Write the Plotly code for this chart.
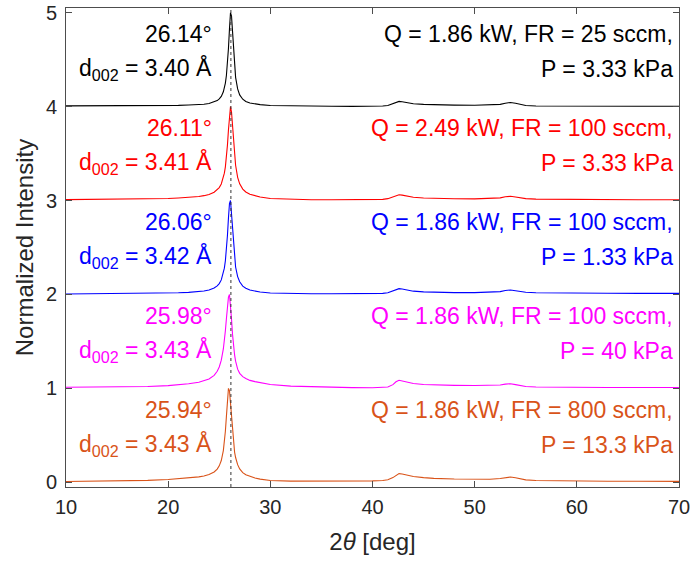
import plotly.graph_objects as go

# 2-theta grid (deg)
two_theta = [10, 12, 14, 16, 18, 20, 21, 22, 23, 23.5, 24, 24.5, 24.8, 25.0, 25.2,
             25.4, 25.5, 25.6, 25.7, 25.8, 25.9, 26.0, 26.1, 26.2, 26.3, 26.4, 26.5, 26.6,
             26.8, 27.0, 27.3, 27.6, 28.0, 28.5, 29, 30, 32, 34, 36, 38, 40, 41, 41.5, 42,
             42.3, 42.6, 42.9, 43.3, 44, 45, 46, 48, 50, 51.5, 52.5, 53, 53.5, 54, 54.5, 55,
             56, 58, 60, 63, 66, 70]

# Normalized intensities (without vertical offset)
int_black = [0.008, 0.008, 0.009, 0.010, 0.011, 0.012, 0.013, 0.017, 0.021, 0.026, 0.033, 0.048,
             0.064, 0.082, 0.109, 0.158, 0.196, 0.251, 0.331, 0.449, 0.618, 0.825, 1.0, 0.963,
             0.783, 0.580, 0.422, 0.312, 0.188, 0.125, 0.079, 0.055, 0.039, 0.029, 0.021, 0.012,
             0.007, 0.005, 0.004, 0.003, 0.003, 0.006, 0.012, 0.030, 0.048, 0.056, 0.052, 0.042,
             0.030, 0.024, 0.020, 0.016, 0.014, 0.016, 0.024, 0.036, 0.044, 0.035, 0.022, 0.012,
             0.007, 0.005, 0.004, 0.004, 0.004, 0.004]
int_red = [0.010, 0.011, 0.012, 0.014, 0.017, 0.021, 0.027, 0.033, 0.043, 0.052, 0.065, 0.088,
           0.113, 0.138, 0.176, 0.241, 0.291, 0.359, 0.456, 0.587, 0.751, 0.915, 1.0, 0.942,
           0.786, 0.617, 0.477, 0.376, 0.247, 0.178, 0.122, 0.091, 0.067, 0.049, 0.037, 0.022,
           0.012, 0.009, 0.008, 0.007, 0.008, 0.012, 0.020, 0.038, 0.055, 0.062, 0.058, 0.048,
           0.035, 0.027, 0.022, 0.019, 0.018, 0.020, 0.028, 0.040, 0.045, 0.038, 0.028, 0.020,
           0.015, 0.012, 0.010, 0.009, 0.008, 0.008]
int_blue = [0.005, 0.006, 0.007, 0.009, 0.011, 0.015, 0.018, 0.022, 0.031, 0.037, 0.048, 0.068,
            0.091, 0.116, 0.155, 0.224, 0.280, 0.359, 0.471, 0.625, 0.813, 0.968, 1.0, 0.849,
            0.661, 0.499, 0.377, 0.292, 0.190, 0.135, 0.089, 0.066, 0.047, 0.034, 0.026, 0.016,
            0.010, 0.008, 0.007, 0.007, 0.008, 0.012, 0.018, 0.035, 0.052, 0.062, 0.058, 0.048,
            0.035, 0.027, 0.023, 0.020, 0.020, 0.022, 0.030, 0.042, 0.048, 0.040, 0.030, 0.023,
            0.018, 0.015, 0.014, 0.013, 0.012, 0.012]
int_magenta = [0.012, 0.013, 0.014, 0.016, 0.020, 0.029, 0.038, 0.049, 0.066, 0.080, 0.100, 0.139,
               0.182, 0.228, 0.300, 0.420, 0.505, 0.613, 0.741, 0.872, 0.971, 1.0, 0.902, 0.737,
               0.575, 0.449, 0.356, 0.290, 0.205, 0.160, 0.125, 0.105, 0.085, 0.072, 0.062, 0.042,
               0.024, 0.016, 0.011, 0.008, 0.006, 0.008, 0.015, 0.040, 0.070, 0.086, 0.080, 0.068,
               0.052, 0.042, 0.036, 0.032, 0.030, 0.030, 0.036, 0.045, 0.050, 0.040, 0.028, 0.020,
               0.014, 0.011, 0.010, 0.010, 0.010, 0.010]
int_orange = [0.008, 0.010, 0.012, 0.015, 0.021, 0.030, 0.037, 0.045, 0.058, 0.068, 0.083, 0.110,
              0.140, 0.175, 0.232, 0.338, 0.425, 0.543, 0.699, 0.870, 1.0, 0.975, 0.837, 0.665,
              0.515, 0.403, 0.322, 0.264, 0.188, 0.142, 0.103, 0.080, 0.061, 0.045, 0.034, 0.020,
              0.013, 0.012, 0.012, 0.013, 0.015, 0.020, 0.028, 0.050, 0.075, 0.092, 0.088, 0.078,
              0.062, 0.050, 0.042, 0.035, 0.032, 0.033, 0.040, 0.050, 0.056, 0.048, 0.035, 0.026,
              0.020, 0.016, 0.014, 0.012, 0.011, 0.010]

series = [int_black, int_red, int_blue, int_magenta, int_orange]
offsets = [4, 3, 2, 1, 0]
colors = ["#000000", "#FF0000", "#0000FF", "#FF00FF", "#D95319"]
peak_labels = ["26.14°", "26.11°", "26.06°", "25.98°", "25.94°"]
d_spacings = ["3.40", "3.41", "3.42", "3.43", "3.43"]
cond_line1 = ["Q = 1.86 kW, FR = 25 sccm,", "Q = 2.49 kW, FR = 100 sccm,",
              "Q = 1.86 kW, FR = 100 sccm,", "Q = 1.86 kW, FR = 100 sccm,",
              "Q = 1.86 kW, FR = 800 sccm,"]
cond_line2 = ["P = 3.33 kPa", "P = 3.33 kPa", "P = 1.33 kPa", "P = 40 kPa", "P = 13.3 kPa"]
ref_peak = 26.14

x_ticks = [10, 20, 30, 40, 50, 60, 70]
y_ticks = [0, 1, 2, 3, 4, 5]

FONT = "Arial, Liberation Sans, Helvetica, sans-serif"

fig = go.Figure()
for ys, off, col in zip(series, offsets, colors):
    fig.add_trace(go.Scatter(x=two_theta, y=[v + off for v in ys], mode="lines",
                             line=dict(color=col, width=1.1), showlegend=False))

fig.add_shape(type="line", x0=ref_peak, x1=ref_peak, y0=0, y1=1, xref="x", yref="paper",
              line=dict(color="#333333", width=1, dash="dot"))

annotations = []
for i in range(5):
    off = offsets[i]
    col = colors[i]
    annotations.append(dict(x=24.45, y=off + 0.77, xref="x", yref="y", text=peak_labels[i],
                            xanchor="right", yanchor="middle", showarrow=False,
                            font=dict(family=FONT, size=23, color=col)))
    annotations.append(dict(x=24.45, y=off + 0.40, xref="x", yref="y",
                            text="d<sub>002</sub> = " + d_spacings[i] + " Å",
                            xanchor="right", yanchor="middle", showarrow=False,
                            font=dict(family=FONT, size=23, color=col)))
    annotations.append(dict(x=69.65, y=off + 0.77, xref="x", yref="y", text=cond_line1[i],
                            xanchor="right", yanchor="middle", showarrow=False,
                            font=dict(family=FONT, size=23, color=col)))
    annotations.append(dict(x=69.65, y=off + 0.40, xref="x", yref="y", text=cond_line2[i],
                            xanchor="right", yanchor="middle", showarrow=False,
                            font=dict(family=FONT, size=23, color=col)))

axis_common = dict(showline=True, linecolor="#4d4d4d", linewidth=1, mirror="ticks",
                   ticks="inside", ticklen=6, tickcolor="#4d4d4d", showgrid=False,
                   zeroline=False, automargin=False,
                   tickfont=dict(family=FONT, size=20, color="#262626"))

fig.update_layout(
    width=694, height=561,
    margin=dict(l=66, r=15, t=8, b=74),
    paper_bgcolor="white", plot_bgcolor="white",
    annotations=annotations,
    xaxis=dict(range=[10, 70], tickvals=x_ticks, ticklabelstandoff=2,
               title=dict(text="2<i>θ</i> [deg]", font=dict(family=FONT, size=24, color="#262626"),
                          standoff=16),
               **axis_common),
    yaxis=dict(range=[-0.05, 5.05], tickvals=y_ticks, ticklabelstandoff=4,
               title=dict(text="Normalized Intensity", font=dict(family=FONT, size=24, color="#262626"),
                          standoff=5),
               **axis_common),
)

fig.write_html("out.html", config={"displayModeBar": False},
               post_script="document.body.style.margin='0';document.body.style.padding='0';")
